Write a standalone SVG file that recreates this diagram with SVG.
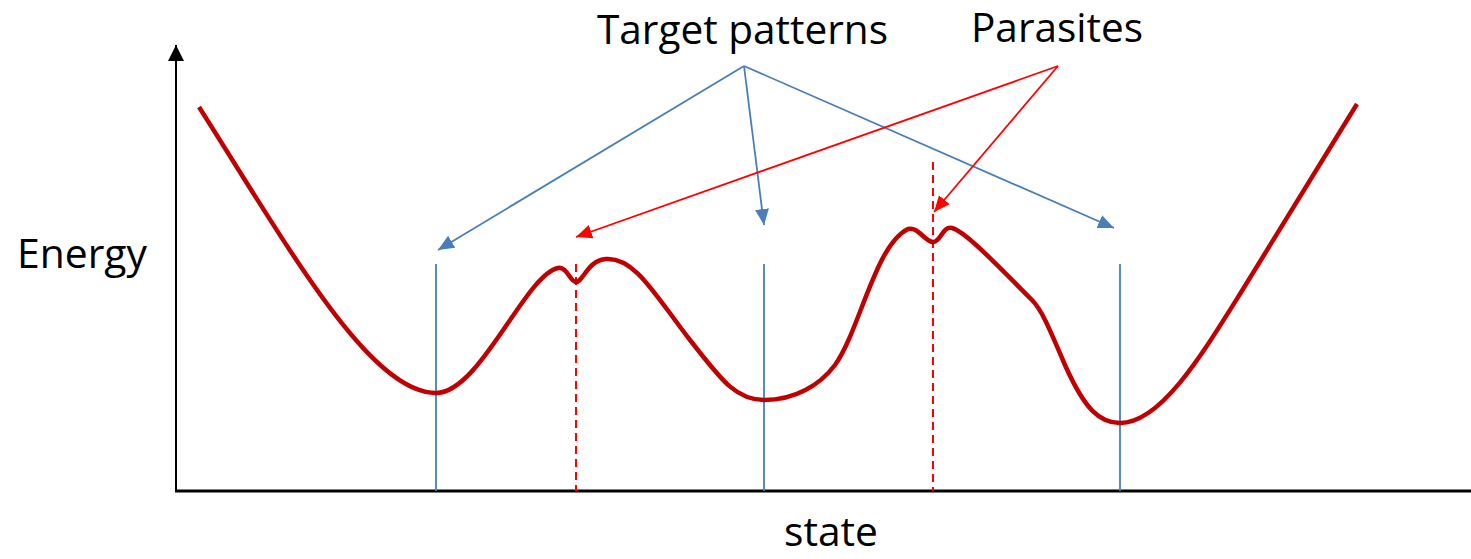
<svg xmlns="http://www.w3.org/2000/svg" width="1471" height="559" viewBox="0 0 1471 559">
<style>
.lbl{font-family:"Open Sans","Liberation Sans",sans-serif;font-size:41px;fill:#000}
.tgt{stroke:#4A7EBB;stroke-width:1.8;fill:none}
.par{stroke:#FF0000;stroke-width:1.8;fill:none}
.dash{stroke:#FF0000;stroke-width:2;stroke-dasharray:8,5;fill:none}
.axis{stroke:#000;fill:none}
</style>
<defs>
<marker id="ab" markerUnits="userSpaceOnUse" markerWidth="18" markerHeight="16" refX="16" refY="7" orient="auto"><path d="M0,0 L16,7 L0,14 z" fill="#4A7EBB"/></marker>
<marker id="ar" markerUnits="userSpaceOnUse" markerWidth="18" markerHeight="16" refX="16" refY="7" orient="auto"><path d="M0,0 L16,7 L0,14 z" fill="#FF0000"/></marker>
<marker id="ak" markerUnits="userSpaceOnUse" markerWidth="18" markerHeight="18" refX="16" refY="8" orient="auto"><path d="M0,0 L16,8 L0,16 z" fill="#000"/></marker>
</defs>
<g id="axes">
<line class="axis" x1="176" y1="491" x2="176" y2="45" stroke-width="2" marker-end="url(#ak)"/>
<line class="axis" x1="175" y1="491" x2="1471" y2="491" stroke-width="3"/>
</g>
<g id="labels">
<text class="lbl" x="597" y="44" textLength="291" lengthAdjust="spacingAndGlyphs">Target patterns</text>
<text class="lbl" x="971" y="42" textLength="172" lengthAdjust="spacingAndGlyphs">Parasites</text>
<text class="lbl" x="17" y="268" textLength="130" lengthAdjust="spacingAndGlyphs">Energy</text>
<text class="lbl" x="784" y="546" textLength="94" lengthAdjust="spacingAndGlyphs">state</text>
</g>
<g id="markers-lines">
<line class="tgt" x1="436" y1="264" x2="436" y2="491"/>
<line class="tgt" x1="764" y1="264" x2="764" y2="491"/>
<line class="tgt" x1="1120" y1="264" x2="1120" y2="491"/>
<line class="dash" x1="576" y1="264" x2="576" y2="491"/>
<line class="dash" x1="933" y1="162" x2="933" y2="491"/>
</g>
<g id="curve">
<path d="M199,107 C290,250 370,393 436,393 C480,393 525,275 558,268 C567,266 570,282 576,282 C583,282 588,260 606,259 C635,257 655,295 690,340 C720,378 735,400 764,400 C795,400 820,385 835,365 C860,330 875,245 908,229 C918,226 925,242 933,242 C941,242 942,226 952,228 C965,231 1000,268 1032,300 C1042,310 1050,330 1065,365 C1085,410 1100,423 1120,423 C1160,423 1200,358 1240,294 L1357,104" fill="none" stroke="#C00000" stroke-width="4.5" stroke-linejoin="round"/>
</g>
<g id="connectors">
<line class="tgt" x1="744" y1="66" x2="438" y2="250" marker-end="url(#ab)"/>
<line class="tgt" x1="744" y1="66" x2="764" y2="225" marker-end="url(#ab)"/>
<line class="tgt" x1="744" y1="66" x2="1114" y2="228" marker-end="url(#ab)"/>
<line class="par" x1="1058" y1="66" x2="576" y2="237" marker-end="url(#ar)"/>
<line class="par" x1="1058" y1="66" x2="934" y2="212" marker-end="url(#ar)"/>
</g>
</svg>
